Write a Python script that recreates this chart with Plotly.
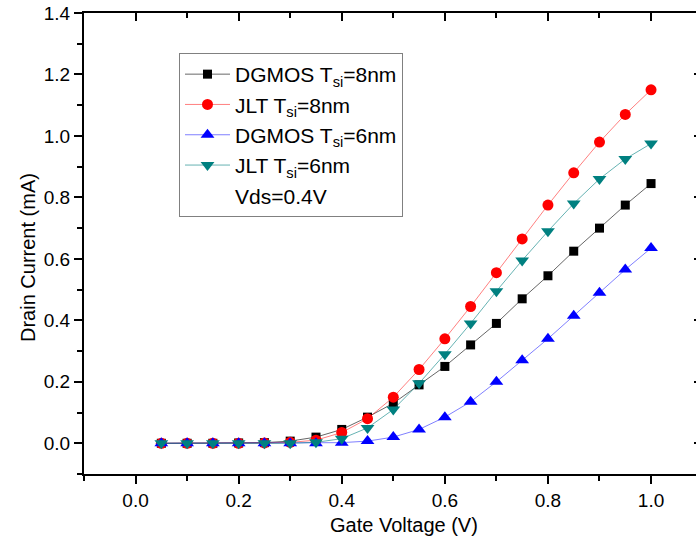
import plotly.graph_objects as go

vg = [0.05, 0.10, 0.15, 0.20, 0.25, 0.30, 0.35, 0.40, 0.45, 0.50,
      0.55, 0.60, 0.65, 0.70, 0.75, 0.80, 0.85, 0.90, 0.95, 1.00]

dgmos_8nm = [0.0, 0.0, 0.0, 0.001, 0.002, 0.007, 0.02, 0.045, 0.085, 0.13,
             0.19, 0.25, 0.32, 0.39, 0.47, 0.545, 0.625, 0.70, 0.775, 0.845]
jlt_8nm = [0.0, 0.0, 0.0, 0.0, 0.001, 0.003, 0.01, 0.035, 0.08, 0.15,
           0.24, 0.34, 0.445, 0.555, 0.665, 0.775, 0.88, 0.98, 1.07, 1.15]
dgmos_6nm = [0.0, 0.0, 0.0, 0.0, 0.0, 0.0, 0.0, 0.002, 0.007, 0.02,
             0.045, 0.085, 0.135, 0.20, 0.27, 0.34, 0.415, 0.49, 0.565, 0.635]
jlt_6nm = [0.0, 0.0, 0.0, 0.0, 0.0, 0.0, 0.003, 0.015, 0.05, 0.11,
           0.195, 0.29, 0.39, 0.495, 0.595, 0.69, 0.78, 0.86, 0.925, 0.975]

series = [
    ("DGMOS T<sub>si</sub>=8nm", dgmos_8nm, "#000000", "rgba(0,0,0,0.6)", "square", 9),
    ("JLT T<sub>si</sub>=8nm", jlt_8nm, "#ff0000", "rgba(255,0,0,0.5)", "circle", 11),
    ("DGMOS T<sub>si</sub>=6nm", dgmos_6nm, "#0000ff", "rgba(0,0,255,0.5)", "triangle-up", 12),
    ("JLT T<sub>si</sub>=6nm", jlt_6nm, "#008080", "rgba(0,128,128,0.6)", "triangle-down", 12),
]

x_title = "Gate Voltage (V)"
y_title = "Drain Current (mA)"
note = "Vds=0.4V"

FONT = "Liberation Sans, Arial, sans-serif"

fig = go.Figure()
for name, ys, mcol, lcol, sym, sz in series:
    fig.add_trace(go.Scatter(
        x=vg, y=ys, name=name, mode="lines+markers",
        line=dict(color=lcol, width=1),
        marker=dict(symbol=sym, size=sz, color=mcol, line=dict(width=0)),
    ))

# extra legend entry for the bias condition
fig.add_trace(go.Scatter(
    x=[None], y=[None], name=note, mode="lines",
    line=dict(color="rgba(0,0,0,0)", width=1),
))

# invisible trace for mirrored axes
fig.add_trace(go.Scatter(x=[None], y=[None], xaxis="x2", yaxis="y2",
                         showlegend=False, hoverinfo="skip"))

xr = [-0.1, 1.0 + 45.0 / 516.0]
yr = [-0.1, 1.4]

fig.update_layout(
    width=696, height=547,
    margin=dict(l=84, r=0, t=13, b=73),
    paper_bgcolor="white", plot_bgcolor="white",
    font=dict(family=FONT, size=19, color="black"),
    showlegend=True,
    legend=dict(
        x=(179 - 84) / 612, y=(474 - 53) / 461, xanchor="left", yanchor="top",
        bordercolor="#808080", borderwidth=1, bgcolor="white",
        font=dict(family=FONT, size=21, color="black"),
        tracegroupgap=0, itemwidth=45,
    ),
    xaxis=dict(
        range=xr, showgrid=False, zeroline=False,
        showline=True, linecolor="black", linewidth=2,
        ticks="outside", ticklen=8, tickwidth=1.5, tickcolor="black",
        tick0=0, dtick=0.2, tickformat=".1f",
        minor=dict(ticks="outside", ticklen=5, tickwidth=1.5, tickcolor="black", dtick=0.1, tick0=0),
        tickfont=dict(size=19),
    ),
    yaxis=dict(
        range=yr, showgrid=False, zeroline=False,
        showline=True, linecolor="black", linewidth=2,
        ticks="outside", ticklen=8, tickwidth=1.5, tickcolor="black",
        tick0=0, dtick=0.2, tickformat=".1f",
        minor=dict(ticks="outside", ticklen=5, tickwidth=1.5, tickcolor="black", dtick=0.1, tick0=0),
        tickfont=dict(size=19),
    ),
    xaxis2=dict(
        range=xr, overlaying="x", side="top", anchor="y2",
        showgrid=False, zeroline=False, showticklabels=False,
        showline=True, linecolor="black", linewidth=2,
        ticks="inside", ticklen=8, tickwidth=1.5, tickcolor="black",
        tick0=0, dtick=0.2,
        minor=dict(ticks="inside", ticklen=5, tickwidth=1.5, tickcolor="black", dtick=0.1, tick0=0),
    ),
    yaxis2=dict(
        range=yr, overlaying="y", side="right", anchor="x2",
        showgrid=False, zeroline=False, showticklabels=False, showline=False,
        ticks="inside", ticklen=2, tickwidth=1.5, tickcolor="black",
        tick0=0, dtick=0.2,
    ),
    annotations=[
        dict(text=x_title, xref="paper", yref="paper",
             x=(404 - 84) / 612, y=-(525 - 474) / 461,
             xanchor="center", yanchor="middle", showarrow=False,
             font=dict(family=FONT, size=20, color="black")),
        dict(text=y_title, xref="paper", yref="paper",
             x=-(84 - 28) / 612, y=(474 - 258) / 461,
             xanchor="center", yanchor="middle", showarrow=False, textangle=-90,
             font=dict(family=FONT, size=20, color="black")),
    ],
)

fig.write_html("out.html", config={"displayModeBar": False})
